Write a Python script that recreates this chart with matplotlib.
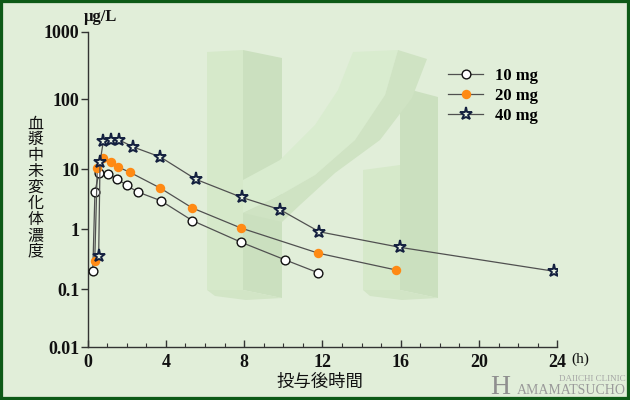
import numpy as np
import matplotlib
matplotlib.use("Agg")
import matplotlib.pyplot as plt
from matplotlib.patches import Polygon, Rectangle
from matplotlib.lines import Line2D
from matplotlib.ticker import NullLocator, FixedLocator

# ---------------- data ----------------
t10 = [0.27, 0.38, 0.59, 1.05, 1.52, 2.0, 2.56, 3.74, 5.35, 7.84, 10.09, 11.76]
c10 = [0.2, 4.2, 8.8, 8.3, 6.9, 5.4, 4.2, 3.0, 1.4, 0.61, 0.31, 0.19]

t20 = [0.37, 0.5, 0.81, 1.18, 1.56, 2.17, 3.7, 5.35, 7.84, 11.79, 15.76]
c20 = [0.3, 10.6, 14.7, 12.9, 10.8, 8.9, 4.9, 2.27, 1.05, 0.4, 0.21]

t40 = [0.57, 0.64, 0.81, 1.18, 1.59, 2.34, 3.72, 5.54, 7.88, 9.83, 11.84, 15.97, 23.83]
c40 = [0.36, 12.6, 25.4, 26.5, 26.5, 20.8, 15.0, 6.8, 3.4, 2.13, 0.91, 0.5, 0.2]

series_labels = ["10 mg", "20 mg", "40 mg"]
y_ticks = [0.01, 0.1, 1, 10, 100, 1000]
y_tick_labels = ["0.01", "0.1", "1", "10", "100", "1000"]
x_ticks = [0, 4, 8, 12, 16, 20, 24]
ylabel_text = "血漿中未変化体濃度"
xlabel_text = "投与後時間"
unit_text = "μg/L"

# ---------------- style ----------------
BG = "#e1eed9"
BORDER = "#0d5a16"
W, H = 630, 400
fig = plt.figure(figsize=(6.3, 4.0), dpi=100, facecolor=BG)

def fx(px):
    return px / W

def fy(py):
    return 1 - py / H

# watermark logo (decorative)
front = "#d6e9ca"
side = "#cbe0bf"
shapes = [
    ([(207, 52), (243, 50), (243, 290), (207, 290)], front),
    ([(243, 50), (282, 58), (282, 298), (243, 290)], side),
    ([(363, 170), (400, 165), (400, 290), (363, 290)], front),
    ([(400, 87), (438, 97), (438, 298), (400, 290)], side),
    ([(353, 52), (398, 50), (385, 95), (355, 140), (315, 175), (275, 198), (243, 213),
      (243, 180), (280, 160), (315, 125), (338, 90)], "#d9eccf"),
    ([(398, 50), (427, 59), (412, 98), (380, 140), (335, 173), (300, 205), (282, 222),
      (243, 213), (275, 198), (315, 175), (355, 140), (385, 95)], "#cfe3c3"),
    ([(207, 290), (243, 290), (282, 298), (246, 300), (215, 296)], "#d2e5c6"),
    ([(363, 290), (400, 290), (438, 298), (402, 300), (370, 296)], "#d2e5c6"),
]
for pts, col in shapes:
    fig.add_artist(Polygon([(fx(a), fy(b)) for a, b in pts], closed=True,
                           transform=fig.transFigure, facecolor=col,
                           edgecolor="none", zorder=-5))

ax = fig.add_axes([87.5 / W, (H - 347) / H, (557.3 - 87.5) / W, 315 / H])
ax.set_facecolor("none")

# y scale: decade positions as drawn in the chart
dec_logs = np.array([-2.0, -1.0, 0.0, 1.0, 2.0, 3.0])
dec_pos = np.array([0.0, 57.7, 117.7, 177.7, 247.7, 315.0])

def _pw(x, xs, ys):
    x = np.asarray(x, float)
    out = np.interp(x, xs, ys)
    lo = x < xs[0]
    hi = x > xs[-1]
    s0 = (ys[1] - ys[0]) / (xs[1] - xs[0])
    s1 = (ys[-1] - ys[-2]) / (xs[-1] - xs[-2])
    out = np.where(lo, ys[0] + (x - xs[0]) * s0, out)
    out = np.where(hi, ys[-1] + (x - xs[-1]) * s1, out)
    return out

def fwd(v):
    v = np.asarray(v, float)
    lv = np.log10(np.where(v > 0, v, 1e-12))
    return _pw(lv, dec_logs, dec_pos)

def inv(p):
    return 10 ** _pw(p, dec_pos, dec_logs)

ax.set_yscale("function", functions=(fwd, inv))

line_col = "#505050"
st10 = dict(color=line_col, lw=0.9, marker="o", ms=6.3, mfc="white", mec="#111111", mew=1.0)
st20 = dict(color=line_col, lw=0.9, marker="o", ms=6.8, mfc="#ff8a14", mec="#ff8a14", mew=0)
st40 = dict(color=line_col, lw=0.9, marker="*", ms=9.5, mfc="#e6f0de", mec="#14203f", mew=1.4)
ax.plot(t10, c10, zorder=3, **st10)
ax.plot(t20, c20, zorder=3, **st20)
ax.plot(t40, c40, zorder=4, **st40)

ax.set_xlim(0, 24)
ax.set_ylim(0.01, 1000)

ax.yaxis.set_major_locator(FixedLocator(y_ticks))
ax.yaxis.set_minor_locator(NullLocator())
ax.set_yticklabels(y_tick_labels)
ax.set_xticks(x_ticks)
ax.set_xticks(np.arange(0, 25, 1), minor=True)

for s in ["top", "right"]:
    ax.spines[s].set_visible(False)
for s in ["left", "bottom"]:
    ax.spines[s].set_color("#333333")
    ax.spines[s].set_linewidth(1.0)

ax.tick_params(axis="y", direction="out", length=5, width=1.0, color="#333333", pad=1)
ax.tick_params(axis="x", which="major", direction="in", length=5, width=1.0,
               color="#333333", pad=5)
ax.tick_params(axis="x", which="minor", direction="in", length=3, width=0.8,
               color="#333333")
for lab in ax.get_xticklabels() + ax.get_yticklabels():
    lab.set_fontfamily("Liberation Serif")
    lab.set_fontweight("bold")
    lab.set_fontsize(13)
    lab.set_color("#111111")

# unit and axis texts
fig.text(fx(100), fy(17), unit_text, ha="center", va="center",
         family="Liberation Serif", weight="bold", size=12, color="#111111")
fig.text(fx(580), fy(359), "(h)", ha="center", va="center",
         family="Liberation Serif", size=11, color="#111111")
fig.text(fx(320), fy(382), xlabel_text, ha="center", va="center",
         family=["Noto Sans CJK JP", "DejaVu Sans"], size=12.5, color="#111111")
n = len(ylabel_text)
for i, ch in enumerate(ylabel_text):
    yc = 124 + i * (251 - 124) / (n - 1)
    fig.text(fx(35.5), fy(yc), ch, ha="center", va="center",
             family=["Noto Sans CJK JP", "DejaVu Sans"], size=11.5, color="#111111")

# legend
handles = [Line2D([], [], **st10), Line2D([], [], **st20), Line2D([], [], **st40)]
leg = fig.legend(handles, series_labels, loc="upper left",
                 bbox_to_anchor=(fx(448), fy(68)), frameon=False,
                 prop=dict(family="Liberation Serif", weight="bold", size=12),
                 handlelength=2.1, handletextpad=0.7, labelspacing=0.25,
                 borderpad=0, borderaxespad=0)

# clinic watermark
fig.text(fx(490), fy(394), "H", ha="left", va="baseline", family="Liberation Serif",
         size=20, color="#8f8f8f")
fig.text(fx(626), fy(394), "AMAMATSUCHO", ha="right", va="baseline",
         family="Liberation Serif", size=10, color="#9a9a9a")
fig.text(fx(626), fy(381), "DAIICHI CLINIC", ha="right", va="baseline",
         family="Liberation Serif", size=6.5, color="#a5a5a5")

# border
fig.add_artist(Rectangle((0, 0), 1, 1, transform=fig.transFigure, fill=False,
                         edgecolor=BORDER, linewidth=4.5, zorder=10))

fig.savefig("out.png", dpi=100, facecolor=BG)
